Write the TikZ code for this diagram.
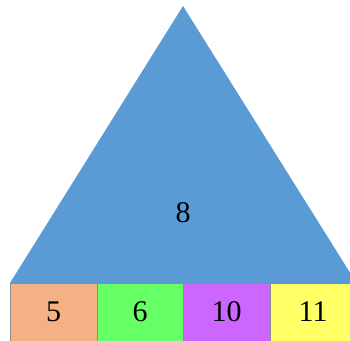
\documentclass[tikz,border=0pt]{standalone}
\usepackage{fontspec}
\setmainfont{Liberation Serif}
\usepackage{tikz}
\usetikzlibrary{positioning}
\definecolor{treeblue}{HTML}{5B9BD5}
\definecolor{peach}{HTML}{F4B183}
\definecolor{lime}{HTML}{66FF66}
\definecolor{violet}{HTML}{CC66FF}
\definecolor{lemon}{HTML}{FFFF66}
\definecolor{edge}{HTML}{8C8C8C}
\tikzset{
  leaf/.style={draw=edge,line width=0.6pt,inner sep=0pt,outer sep=0pt,
    minimum width=86.5pt,text height=38pt,text depth=23pt,
    font=\fontsize{30}{32}\selectfont},
  digit/.style={font=\fontsize{30}{32}\selectfont}
}

\begin{document}
\begin{tikzpicture}[x=1pt,y=1pt]
        \useasboundingbox (0,0) rectangle (350,340);
        \clip (0,0) rectangle (350,340);
        \fill[treeblue] (183,334) -- (356.5,57) -- (10,57) -- cycle;
        \node[digit] (root) at (183,127) {8};
        \node[leaf,fill=peach,anchor=north west] (k5) at (10.3,57) {5};
        \node[leaf,fill=lime,right=0pt of k5] (k6) {6};
        \node[leaf,fill=violet,right=0pt of k6] (k10) {10};
        \node[leaf,fill=lemon,right=0pt of k10] (k11) {11};
      \end{tikzpicture}
\end{document}
